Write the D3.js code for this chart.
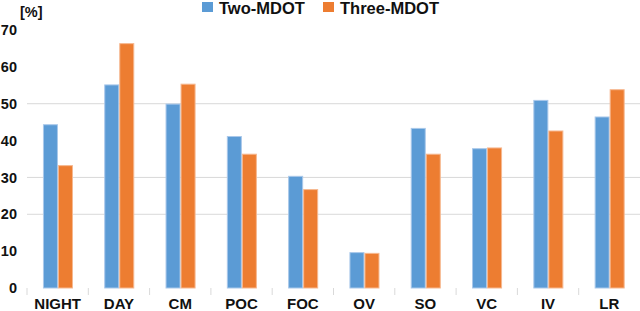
<!DOCTYPE html>
<html>
<head>
<meta charset="utf-8">
<script src="https://cdn.jsdelivr.net/npm/d3@7"></script>
<style>
  body { margin: 0; background: #fff; }
  text { font-family: "Liberation Sans", Arial, sans-serif; font-weight: bold; fill: #111; }
</style>
</head>
<body>
<div id="chart"></div>
<script>
const categories = ["NIGHT", "DAY", "CM", "POC", "FOC", "OV", "SO", "VC", "IV", "LR"];
const seriesNames = ["Two-MDOT", "Three-MDOT"];
const twoMdot = [44.3, 55.1, 49.9, 41.1, 30.3, 9.6, 43.3, 37.8, 50.9, 46.4];
const threeMdot = [33.2, 66.3, 55.3, 36.3, 26.7, 9.4, 36.3, 38.0, 42.6, 53.8];
const yTicks = [0, 10, 20, 30, 40, 50, 60, 70];
const gridValues = [20, 30, 50];

const svgWidth = 640, svgHeight = 311;
const margin = { top: 30, right: 0, bottom: 23, left: 27 };
const width = svgWidth - margin.left - margin.right;
const height = svgHeight - margin.top - margin.bottom;

const color = d3.scaleOrdinal().domain(seriesNames).range(["#5B9BD5", "#ED7D31"]);

const svg = d3.select("#chart").append("svg")
  .attr("width", svgWidth)
  .attr("height", svgHeight);

const chart = svg.append("g")
  .attr("transform", `translate(${margin.left},${margin.top})`);

const x0 = d3.scaleBand().domain(categories).range([0, width]).paddingInner(0).paddingOuter(0);
const x1 = d3.scaleBand().domain(seriesNames).range([x0.bandwidth() * 0.26, x0.bandwidth() * 0.75]).padding(0);
const y = d3.scaleLinear().domain([0, 70]).range([height, 0]);

// gridlines
chart.selectAll(".grid")
  .data(gridValues)
  .enter().append("line")
  .attr("x1", 0).attr("x2", width)
  .attr("y1", d => y(d)).attr("y2", d => y(d))
  .attr("stroke", "#d9d9d9").attr("stroke-width", 1);

// y tick labels
chart.selectAll(".ylab")
  .data(yTicks)
  .enter().append("text")
  .attr("x", -10)
  .attr("y", d => y(d))
  .attr("dy", "0.35em")
  .attr("text-anchor", "end")
  .attr("font-size", 14.5)
  .text(d => d);

// category boundary ticks
chart.selectAll(".ctick")
  .data(categories.slice(1).concat(["start"]))
  .enter().append("line")
  .attr("x1", d => d === "start" ? 0 : x0(d))
  .attr("x2", d => d === "start" ? 0 : x0(d))
  .attr("y1", height).attr("y2", height + 7)
  .attr("stroke", "#d9d9d9");

// bars
const rows = categories.map((c, i) => ({ cat: c, vals: [twoMdot[i], threeMdot[i]] }));
const groups = chart.selectAll(".grp")
  .data(rows)
  .enter().append("g")
  .attr("transform", d => `translate(${x0(d.cat)},0)`);

groups.selectAll("rect")
  .data(d => seriesNames.map((s, j) => ({ s, v: d.vals[j] })))
  .enter().append("rect")
  .attr("x", d => x1(d.s) + 0.5)
  .attr("y", d => y(d.v))
  .attr("width", x1.bandwidth() - 1)
  .attr("height", d => height - y(d.v))
  .attr("fill", d => color(d.s))
  .attr("stroke", d => d.s === "Two-MDOT" ? "#a9c8ea" : "#f6b890")
  .attr("stroke-width", 1);

// category labels
chart.selectAll(".xlab")
  .data(categories)
  .enter().append("text")
  .attr("x", d => x0(d) + x0.bandwidth() / 2)
  .attr("y", height + 21)
  .attr("text-anchor", "middle")
  .attr("font-size", 15)
  .text(d => d);

// unit label
svg.append("text")
  .attr("x", 20).attr("y", 17)
  .attr("font-size", 14.5)
  .text("[%]");

// legend
const legendX = [202, 323];
const legend = svg.selectAll(".leg")
  .data(seriesNames)
  .enter().append("g")
  .attr("transform", (d, i) => `translate(${legendX[i]},0)`);

legend.append("rect")
  .attr("x", 0).attr("y", 2)
  .attr("width", 11).attr("height", 10)
  .attr("fill", d => color(d));

legend.append("text")
  .attr("x", 17).attr("y", 14)
  .attr("font-size", 16.5)
  .text(d => d);
</script>
</body>
</html>
